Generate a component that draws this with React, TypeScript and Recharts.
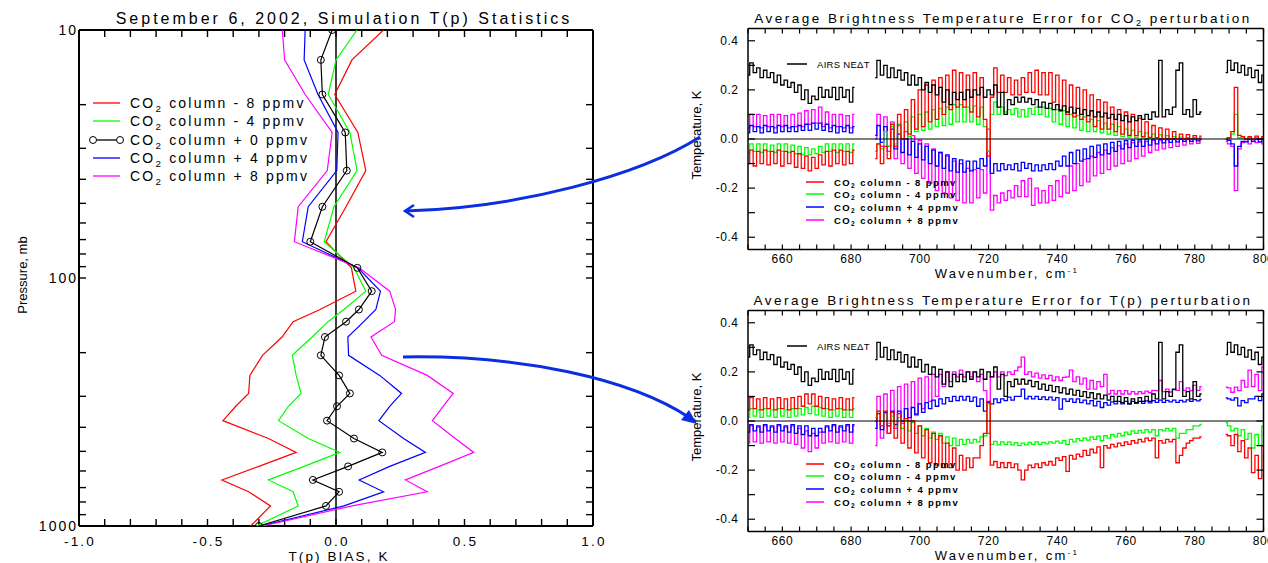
import { ScatterChart, Scatter, LineChart, Line, XAxis, YAxis, ReferenceLine } from "recharts";

type Pair = [number, number];

const FONT = "'Liberation Sans', Arial, sans-serif";
const RED = "#ff0000";
const GREEN = "#00ff00";
const BLUE = "#0000ff";
const MAGENTA = "#ff00ff";
const ARROW = "#0a2ee0";

/* ---------- left panel: T(p) bias profiles ---------- */

const pressures = [10, 13.2, 18.2, 25.9, 36.9, 51.6, 71.4, 91, 113, 134, 150, 173, 205, 247, 292, 329, 376, 444, 505, 575, 652, 728, 830, 1000];
const biasMinus8 = [0.185, 0.062, -0.005, 0.085, 0.116, 0.039, -0.039, 0.06, 0.077, -0.062, -0.167, -0.21, -0.286, -0.335, -0.34, -0.39, -0.44, -0.263, -0.155, -0.3, -0.444, -0.34, -0.255, -0.332];
const biasMinus4 = [0.082, 0.0, -0.03, 0.054, 0.082, -0.008, -0.046, 0.07, 0.116, 0.031, -0.031, -0.093, -0.17, -0.155, -0.136, -0.185, -0.224, -0.108, 0.015, -0.124, -0.263, -0.167, -0.147, -0.31];
const biasPlus0 = [-0.015, -0.059, -0.053, 0.036, 0.042, -0.053, -0.1, 0.083, 0.139, 0.089, 0.039, -0.043, -0.059, 0.012, 0.054, 0.004, -0.035, 0.07, 0.18, 0.047, -0.09, 0.012, -0.039, -0.3];
const biasPlus4 = [-0.12, -0.124, -0.07, 0.008, 0.003, -0.108, -0.131, 0.085, 0.173, 0.155, 0.108, 0.046, 0.049, 0.17, 0.255, 0.209, 0.167, 0.263, 0.348, 0.209, 0.09, 0.185, 0.031, -0.294];
const biasPlus8 = [-0.209, -0.2, -0.12, -0.015, -0.034, -0.147, -0.162, 0.09, 0.209, 0.232, 0.227, 0.136, 0.178, 0.355, 0.456, 0.417, 0.375, 0.464, 0.536, 0.402, 0.27, 0.355, 0.062, -0.286];

const biasTicks = [-1, -0.9, -0.8, -0.7, -0.6, -0.5, -0.4, -0.3, -0.2, -0.1, 0, 0.1, 0.2, 0.3, 0.4, 0.5, 0.6, 0.7, 0.8, 0.9, 1];
const biasLabels = [-1, -0.5, 0, 0.5, 1];
const pTicks = [10, 20, 30, 40, 50, 60, 70, 80, 90, 100, 200, 300, 400, 500, 600, 700, 800, 900, 1000];
const pLabels = [10, 100, 1000];

/* ---------- right panels: brightness temperature error spectra ---------- */

// channel groups (cm-1); each channel holds a pair of values drawn at ch and ch+1
const chA = [650, 652, 654, 656, 658, 660, 662, 664, 666, 668, 670, 672, 674, 676, 678, 680];
const chB = [
  687, 689, 691, 693, 695, 697, 699, 701, 703, 705, 707, 709, 711, 713, 715, 717,
  719, 721, 723, 725, 727, 729, 731, 733, 735, 737, 739, 741, 743, 745, 747, 749,
  751, 753, 755, 757, 759, 761, 763, 765, 767, 769, 771, 773, 775, 777, 779, 781,
];
const chC = [789, 791, 793, 795, 797, 799];

const wnTicks = [650, 655, 660, 665, 670, 675, 680, 685, 690, 695, 700, 705, 710, 715, 720, 725, 730, 735, 740, 745, 750, 755, 760, 765, 770, 775, 780, 785, 790, 795, 800];
const wnLabels = [660, 680, 700, 720, 740, 760, 780, 800];
const tTicks = [-0.4, -0.3, -0.2, -0.1, 0, 0.1, 0.2, 0.3, 0.4];
const tLabels = [-0.4, -0.2, 0, 0.2, 0.4];

// AIRS NEdT (same in both panels)
const airsNedt: Pair[] = [
  [0.26, 0.31], [0.27, 0.29], [0.25, 0.28], [0.25, 0.27], [0.23, 0.26], [0.22, 0.24], [0.21, 0.23], [0.19, 0.22],
  [0.16, 0.2], [0.145, 0.175], [0.16, 0.21], [0.17, 0.2], [0.17, 0.21], [0.16, 0.21], [0.17, 0.2], [0.15, 0.21],
  [0.25, 0.32], [0.26, 0.3], [0.25, 0.29], [0.25, 0.28], [0.24, 0.27], [0.22, 0.26], [0.22, 0.25], [0.2, 0.23],
  [0.19, 0.22], [0.18, 0.21], [0.15, 0.2], [0.14, 0.19], [0.16, 0.19], [0.16, 0.2], [0.17, 0.2], [0.18, 0.21],
  [0.17, 0.2], [0.18, 0.22], [0.13, 0.19], [0.1, 0.16], [0.14, 0.17], [0.15, 0.17], [0.15, 0.165], [0.14, 0.16],
  [0.13, 0.15], [0.125, 0.145], [0.12, 0.14], [0.115, 0.135], [0.11, 0.13], [0.105, 0.125], [0.1, 0.12], [0.095, 0.115],
  [0.09, 0.11], [0.09, 0.105], [0.085, 0.1], [0.08, 0.1], [0.075, 0.095], [0.07, 0.09], [0.075, 0.095], [0.08, 0.1],
  [0.08, 0.11], [0.09, 0.32], [0.09, 0.12], [0.1, 0.13], [0.28, 0.31], [0.1, 0.12], [0.09, 0.16], [0.1, 0.11],
  [0.27, 0.32], [0.28, 0.31], [0.27, 0.3], [0.26, 0.29], [0.25, 0.28], [0.23, 0.26],
];

// CO2 perturbation panel
const co2Minus8: Pair[] = [
  [-0.1, -0.045], [-0.11, -0.05], [-0.1, -0.045], [-0.105, -0.05], [-0.1, -0.045], [-0.11, -0.05], [-0.1, -0.05], [-0.115, -0.06],
  [-0.12, -0.07], [-0.13, -0.075], [-0.12, -0.065], [-0.105, -0.05], [-0.11, -0.045], [-0.1, -0.045], [-0.105, -0.05], [-0.1, -0.045],
  [-0.08, -0.02], [-0.1, -0.03], [-0.08, 0.06], [-0.03, 0.1], [0.0, 0.12], [0.02, 0.16], [0.04, 0.2], [0.05, 0.22],
  [0.07, 0.24], [0.08, 0.25], [0.1, 0.26], [0.12, 0.28], [0.13, 0.27], [0.13, 0.26], [0.11, 0.27], [0.09, 0.25],
  [0.08, -0.07], [0.17, 0.29], [0.19, 0.26], [0.19, 0.25], [0.18, 0.24], [0.18, 0.25], [0.19, 0.27], [0.19, 0.28],
  [0.18, 0.27], [0.18, 0.27], [0.15, 0.26], [0.12, 0.24], [0.1, 0.22], [0.09, 0.21], [0.08, 0.2], [0.07, 0.18],
  [0.05, 0.16], [0.04, 0.15], [0.04, 0.13], [0.03, 0.12], [0.02, 0.11], [0.015, 0.1], [0.014, 0.085], [0.01, 0.07],
  [0.007, 0.055], [0.005, 0.045], [0.0, 0.04], [0.0, 0.03], [0.0, 0.02], [0.0, 0.018], [0.0, 0.014], [0.0, 0.012],
  [0.0, 0.005], [0.03, 0.21], [0.015, 0.01], [0.0, 0.01], [0.0, 0.012], [0.0, 0.01],
];
const co2Minus4: Pair[] = [
  [-0.055, -0.02], [-0.05, -0.02], [-0.055, -0.02], [-0.05, -0.025], [-0.055, -0.02], [-0.05, -0.02], [-0.055, -0.025], [-0.06, -0.03],
  [-0.065, -0.035], [-0.065, -0.04], [-0.06, -0.03], [-0.055, -0.02], [-0.05, -0.02], [-0.055, -0.02], [-0.05, -0.02], [-0.055, -0.02],
  [-0.05, -0.02], [-0.04, 0.03], [-0.03, 0.05], [-0.02, 0.06], [0.0, 0.07], [0.01, 0.09], [0.03, 0.1], [0.035, 0.11],
  [0.04, 0.12], [0.05, 0.125], [0.055, 0.13], [0.06, 0.14], [0.07, 0.14], [0.07, 0.13], [0.07, 0.135], [0.06, 0.13],
  [0.05, -0.05], [0.1, 0.15], [0.1, 0.13], [0.11, 0.12], [0.1, 0.125], [0.09, 0.12], [0.09, 0.125], [0.1, 0.13],
  [0.1, 0.13], [0.09, 0.125], [0.07, 0.12], [0.06, 0.115], [0.05, 0.1], [0.045, 0.095], [0.035, 0.09], [0.03, 0.08],
  [0.03, 0.075], [0.025, 0.065], [0.02, 0.06], [0.015, 0.05], [0.01, 0.04], [0.008, 0.035], [0.005, 0.03], [0.003, 0.025],
  [0.002, 0.02], [0.0, 0.017], [0.0, 0.014], [0.0, 0.01], [0.0, 0.008], [0.0, 0.006], [0.0, 0.005], [0.0, 0.004],
  [0.0, 0.006], [0.02, 0.1], [0.005, 0.004], [0.0, 0.006], [0.0, 0.005], [0.0, 0.006],
];
const co2Plus4: Pair[] = [
  [0.025, 0.055], [0.03, 0.05], [0.025, 0.055], [0.03, 0.05], [0.025, 0.055], [0.03, 0.055], [0.03, 0.05], [0.03, 0.055],
  [0.035, 0.06], [0.035, 0.065], [0.04, 0.065], [0.035, 0.06], [0.03, 0.055], [0.025, 0.05], [0.03, 0.055], [0.025, 0.05],
  [0.015, 0.055], [-0.014, 0.05], [-0.03, 0.04], [-0.04, 0.02], [-0.055, 0.0], [-0.065, -0.01], [-0.075, -0.02], [-0.085, -0.03],
  [-0.1, -0.045], [-0.11, -0.055], [-0.12, -0.065], [-0.13, -0.08], [-0.135, -0.085], [-0.135, -0.09], [-0.13, -0.09], [-0.12, -0.08],
  [-0.11, -0.05], [-0.14, -0.1], [-0.13, -0.1], [-0.125, -0.105], [-0.125, -0.1], [-0.13, -0.095], [-0.12, -0.1], [-0.13, -0.105],
  [-0.13, -0.105], [-0.125, -0.1], [-0.125, -0.09], [-0.11, -0.07], [-0.11, -0.055], [-0.1, -0.045], [-0.09, -0.04], [-0.08, -0.03],
  [-0.075, -0.025], [-0.065, -0.02], [-0.06, -0.014], [-0.05, -0.01], [-0.04, -0.007], [-0.035, -0.005], [-0.03, -0.003], [-0.03, 0.0],
  [-0.025, 0.0], [-0.02, 0.0], [-0.016, 0.0], [-0.014, 0.0], [-0.012, 0.0], [-0.01, 0.0], [-0.01, 0.0], [-0.008, 0.0],
  [0.0, -0.005], [-0.02, -0.11], [-0.03, -0.01], [-0.012, 0.0], [-0.01, 0.0], [-0.012, 0.0],
];
const co2Plus8: Pair[] = [
  [0.045, 0.1], [0.05, 0.1], [0.045, 0.095], [0.05, 0.1], [0.045, 0.1], [0.05, 0.095], [0.045, 0.1], [0.05, 0.105],
  [0.05, 0.115], [0.06, 0.12], [0.065, 0.13], [0.05, 0.11], [0.045, 0.1], [0.05, 0.1], [0.045, 0.095], [0.045, 0.1],
  [0.0, 0.1], [-0.03, 0.09], [-0.05, 0.07], [-0.08, 0.055], [-0.1, 0.03], [-0.12, 0.014], [-0.14, -0.005], [-0.16, -0.02],
  [-0.18, -0.04], [-0.21, -0.055], [-0.22, -0.07], [-0.24, -0.09], [-0.25, -0.1], [-0.26, -0.12], [-0.26, -0.125], [-0.24, -0.125],
  [-0.22, 0.04], [-0.29, -0.23], [-0.26, -0.22], [-0.25, -0.21], [-0.24, -0.19], [-0.235, -0.17], [-0.235, -0.16], [-0.27, -0.2],
  [-0.26, -0.21], [-0.26, -0.19], [-0.25, -0.17], [-0.235, -0.15], [-0.22, -0.11], [-0.21, -0.1], [-0.19, -0.083], [-0.175, -0.07],
  [-0.15, -0.055], [-0.14, -0.045], [-0.125, -0.035], [-0.11, -0.028], [-0.1, -0.02], [-0.09, -0.015], [-0.08, -0.012], [-0.07, -0.01],
  [-0.055, -0.006], [-0.045, -0.004], [-0.04, -0.002], [-0.035, 0.0], [-0.03, 0.0], [-0.025, 0.0], [-0.02, 0.0], [-0.018, 0.0],
  [-0.01, -0.02], [-0.03, -0.21], [-0.04, -0.015], [-0.01, -0.02], [-0.01, -0.015], [-0.012, -0.02],
];

// T(p) perturbation panel
const tpMinus8: Pair[] = [
  [0.045, 0.095], [0.05, 0.09], [0.045, 0.095], [0.05, 0.09], [0.045, 0.095], [0.05, 0.09], [0.045, 0.095], [0.05, 0.1],
  [0.06, 0.11], [0.07, 0.11], [0.06, 0.1], [0.05, 0.095], [0.045, 0.09], [0.05, 0.095], [0.045, 0.09], [0.045, 0.095],
  [0.0, 0.04], [-0.02, 0.04], [-0.05, 0.035], [-0.07, 0.03], [-0.09, 0.01], [-0.11, 0.0], [-0.13, -0.02], [-0.15, -0.035],
  [-0.17, -0.05], [-0.18, -0.06], [-0.19, -0.09], [-0.19, -0.11], [-0.2, -0.14], [-0.2, -0.15], [-0.19, -0.15], [-0.15, -0.1],
  [-0.05, 0.08], [-0.18, -0.165], [-0.19, -0.17], [-0.19, -0.17], [-0.19, -0.175], [-0.2, -0.24], [-0.2, -0.18], [-0.19, -0.175],
  [-0.19, -0.17], [-0.18, -0.165], [-0.18, -0.15], [-0.16, -0.145], [-0.205, -0.14], [-0.155, -0.135], [-0.145, -0.12], [-0.14, -0.115],
  [-0.13, -0.105], [-0.19, -0.1], [-0.11, -0.095], [-0.105, -0.09], [-0.1, -0.085], [-0.095, -0.08], [-0.09, -0.075], [-0.085, -0.07],
  [-0.08, -0.07], [-0.15, -0.08], [-0.09, -0.075], [-0.085, -0.075], [-0.17, -0.14], [-0.11, -0.09], [-0.08, -0.07], [-0.07, -0.065],
  [-0.055, -0.06], [-0.1, -0.055], [-0.125, -0.08], [-0.15, -0.11], [-0.21, -0.14], [-0.235, -0.1],
];
const tpMinus4: Pair[] = [
  [0.015, 0.05], [0.02, 0.045], [0.015, 0.05], [0.02, 0.045], [0.015, 0.05], [0.02, 0.045], [0.015, 0.05], [0.02, 0.05],
  [0.025, 0.055], [0.03, 0.06], [0.025, 0.055], [0.02, 0.05], [0.015, 0.045], [0.02, 0.05], [0.015, 0.045], [0.015, 0.05],
  [0.014, 0.04], [0.0, 0.03], [-0.01, 0.02], [-0.02, 0.014], [-0.03, 0.0], [-0.04, -0.007], [-0.05, -0.02], [-0.06, -0.03],
  [-0.07, -0.045], [-0.075, -0.05], [-0.09, -0.065], [-0.1, -0.07], [-0.1, -0.075], [-0.095, -0.075], [-0.09, -0.075], [-0.085, -0.065],
  [-0.06, 0.07], [-0.095, -0.083], [-0.097, -0.085], [-0.095, -0.085], [-0.097, -0.088], [-0.1, -0.09], [-0.097, -0.087], [-0.095, -0.085],
  [-0.095, -0.087], [-0.093, -0.085], [-0.09, -0.082], [-0.09, -0.08], [-0.095, -0.075], [-0.085, -0.072], [-0.08, -0.07], [-0.078, -0.065],
  [-0.075, -0.062], [-0.08, -0.06], [-0.07, -0.055], [-0.065, -0.05], [-0.06, -0.045], [-0.055, -0.04], [-0.05, -0.038], [-0.048, -0.035],
  [-0.045, -0.035], [-0.06, -0.035], [-0.04, -0.03], [-0.04, -0.03], [-0.07, -0.05], [-0.05, -0.035], [-0.035, -0.02], [-0.02, -0.014],
  [-0.007, -0.02], [-0.04, -0.03], [-0.06, -0.035], [-0.075, -0.05], [-0.11, -0.055], [-0.1, -0.02],
];
const tpPlus4: Pair[] = [
  [-0.045, -0.015], [-0.04, -0.02], [-0.045, -0.015], [-0.04, -0.02], [-0.045, -0.015], [-0.04, -0.02], [-0.045, -0.015], [-0.05, -0.02],
  [-0.055, -0.02], [-0.06, -0.03], [-0.06, -0.03], [-0.045, -0.02], [-0.04, -0.015], [-0.045, -0.02], [-0.04, -0.015], [-0.045, -0.015],
  [-0.03, 0.03], [-0.035, 0.035], [-0.02, 0.04], [-0.014, 0.04], [0.0, 0.05], [0.014, 0.055], [0.025, 0.07], [0.035, 0.075],
  [0.05, 0.085], [0.06, 0.09], [0.07, 0.095], [0.08, 0.1], [0.083, 0.1], [0.085, 0.1], [0.08, 0.097], [0.06, 0.09],
  [0.04, 0.075], [0.07, 0.09], [0.075, 0.09], [0.083, 0.097], [0.085, 0.1], [0.1, 0.13], [0.09, 0.1], [0.09, 0.1],
  [0.088, 0.098], [0.087, 0.097], [0.085, 0.095], [0.048, 0.09], [0.08, 0.09], [0.076, 0.09], [0.075, 0.085], [0.07, 0.083],
  [0.062, 0.08], [0.055, 0.075], [0.065, 0.078], [0.07, 0.08], [0.07, 0.08], [0.07, 0.08], [0.072, 0.08], [0.072, 0.082],
  [0.074, 0.083], [0.076, 0.085], [0.076, 0.084], [0.078, 0.085], [0.076, 0.084], [0.078, 0.086], [0.08, 0.087], [0.082, 0.088],
  [0.094, 0.09], [0.085, 0.094], [0.062, 0.083], [0.075, 0.09], [0.09, 0.1], [0.083, 0.11],
];
const tpPlus8: Pair[] = [
  [-0.09, -0.02], [-0.085, -0.025], [-0.09, -0.02], [-0.085, -0.025], [-0.09, -0.02], [-0.085, -0.025], [-0.09, -0.02], [-0.095, -0.03],
  [-0.11, -0.04], [-0.125, -0.05], [-0.11, -0.045], [-0.09, -0.025], [-0.085, -0.02], [-0.09, -0.025], [-0.085, -0.02], [-0.09, -0.02],
  [-0.1, 0.1], [-0.07, 0.11], [-0.05, 0.125], [-0.03, 0.14], [-0.01, 0.15], [0.0, 0.16], [0.03, 0.175], [0.05, 0.18],
  [0.08, 0.19], [0.1, 0.19], [0.14, 0.2], [0.16, 0.2], [0.18, 0.207], [0.18, 0.2], [0.18, 0.2], [0.16, 0.19],
  [0.124, -0.05], [0.18, 0.2], [0.18, 0.2], [0.185, 0.2], [0.19, 0.205], [0.22, 0.26], [0.19, 0.2], [0.18, 0.195],
  [0.175, 0.188], [0.172, 0.186], [0.165, 0.18], [0.165, 0.178], [0.18, 0.207], [0.16, 0.18], [0.15, 0.175], [0.13, 0.165],
  [0.13, 0.16], [0.14, 0.19], [0.11, 0.125], [0.11, 0.124], [0.11, 0.124], [0.11, 0.12], [0.11, 0.12], [0.112, 0.122],
  [0.115, 0.125], [0.124, 0.165], [0.12, 0.13], [0.118, 0.128], [0.125, 0.16], [0.125, 0.135], [0.124, 0.145], [0.125, 0.14],
  [0.138, 0.135], [0.117, 0.138], [0.124, 0.165], [0.138, 0.207], [0.14, 0.19], [0.124, 0.22],
];

/* ---------- helpers ---------- */

const near = (list: number[], v: number) => list.some((l) => Math.abs(l - v) < 1e-6);

function buildSpectrum(series: Record<string, Pair[]>) {
  const groups = [chA, chB, chC];
  const keys = Object.keys(series);
  const rows: Record<string, number | null>[] = [];
  let i = 0;
  groups.forEach((g, gi) => {
    g.forEach((ch) => {
      const r0: Record<string, number | null> = { x: ch };
      const r1: Record<string, number | null> = { x: ch + 1 };
      keys.forEach((k) => {
        r0[k] = series[k][i][0];
        r1[k] = series[k][i][1];
      });
      rows.push(r0, r1);
      i++;
    });
    if (gi < groups.length - 1) {
      const gap: Record<string, number | null> = { x: g[g.length - 1] + 2 };
      keys.forEach((k) => (gap[k] = null));
      rows.push(gap);
    }
  });
  return rows;
}

const co2Rows = buildSpectrum({ m8: co2Minus8, m4: co2Minus4, p4: co2Plus4, p8: co2Plus8, nedt: airsNedt });
const tpRows = buildSpectrum({ m8: tpMinus8, m4: tpMinus4, p4: tpPlus4, p8: tpPlus8, nedt: airsNedt });

const profile = (vals: number[]) => vals.map((v, i) => ({ x: v, p: pressures[i] }));

const Empty = () => <g />;

function CoText({ x, y, size, ls, rest, bold }: { x: number; y: number; size: number; ls: number; rest: string; bold?: boolean }) {
  return (
    <text x={x} y={y} fontSize={size} letterSpacing={ls} fontFamily={FONT} fontWeight={bold ? "bold" : "normal"} fill="#000">
      CO
      <tspan fontSize={size * 0.7} dy={size * 0.28}>2</tspan>
      <tspan dy={-size * 0.28}>{rest}</tspan>
    </text>
  );
}

/* ---------- panels ---------- */

function ProfilePanel() {
  const xTick = (p: any) =>
    near(biasLabels, p.payload.value) ? (
      <text x={p.x + 1} y={p.y} dy="0.71em" textAnchor="middle" fontSize={13.5} letterSpacing={2.2} fontFamily={FONT} fill="#000">
        {p.payload.value.toFixed(1)}
      </text>
    ) : (
      <g />
    );
  const yTick = (p: any) =>
    near(pLabels, p.payload.value) ? (
      <text x={p.x} y={p.y} dy="0.35em" textAnchor="end" fontSize={14} letterSpacing={2} fontFamily={FONT} fill="#000">
        {p.payload.value}
      </text>
    ) : (
      <g />
    );
  const axis = { stroke: "#000", strokeWidth: 2 };
  const tl = { stroke: "#000", strokeWidth: 1.4 };
  const noDot = () => <g />;
  const ring = (p: any) => <circle cx={p.cx} cy={p.cy} r={3.5} fill="none" stroke="#000" strokeWidth={1} />;
  const common = { xAxisId: "b", yAxisId: "l", isAnimationActive: false, lineType: "joint" as const };
  const xAx = { dataKey: "x", type: "number" as const, domain: [-1, 1], ticks: biasTicks, interval: 0, allowDataOverflow: true };
  const yAx = { dataKey: "p", type: "number" as const, scale: "log" as const, domain: [10, 1000], reversed: true, ticks: pTicks, interval: 0, allowDataOverflow: true };
  return (
    <div style={{ position: "absolute", left: 0, top: 0 }}>
      <ScatterChart width={620} height={563} margin={{ top: 30, right: 27, bottom: 17, left: 39 }}>
        {/* inward tick axes */}
        <XAxis xAxisId="bm" {...xAx} mirror height={1} tickSize={7} tick={Empty} axisLine={axis} tickLine={tl} stroke="#000" />
        <XAxis xAxisId="b" {...xAx} height={20} tickSize={0} tickMargin={10} tick={xTick} axisLine={false} tickLine={false} />
        <XAxis xAxisId="t" {...xAx} orientation="top" mirror height={1} tickSize={7} tick={Empty} axisLine={axis} tickLine={tl} stroke="#000" />
        <YAxis yAxisId="lm" {...yAx} mirror width={1} tickSize={7} tick={Empty} axisLine={axis} tickLine={tl} stroke="#000" />
        <YAxis yAxisId="l" {...yAx} width={40} tickSize={0} tickMargin={1} tick={yTick} axisLine={false} tickLine={false} />
        <YAxis yAxisId="rm" {...yAx} orientation="right" mirror width={1} tickSize={7} tick={Empty} axisLine={axis} tickLine={tl} stroke="#000" />
        <ReferenceLine xAxisId="b" yAxisId="l" x={0} stroke="#000" strokeWidth={1.5} />
        <Scatter xAxisId="bm" yAxisId="lm" data={profile(biasPlus0)} shape={noDot} isAnimationActive={false} />
        <Scatter xAxisId="t" yAxisId="rm" data={profile(biasPlus0)} shape={noDot} isAnimationActive={false} />
        <Scatter {...common} data={profile(biasMinus8)} fill={RED} line={{ stroke: RED, strokeWidth: 1.2 }} shape={noDot} />
        <Scatter {...common} data={profile(biasMinus4)} fill={GREEN} line={{ stroke: GREEN, strokeWidth: 1.2 }} shape={noDot} />
        <Scatter {...common} data={profile(biasPlus4)} fill={BLUE} line={{ stroke: BLUE, strokeWidth: 1.2 }} shape={noDot} />
        <Scatter {...common} data={profile(biasPlus8)} fill={MAGENTA} line={{ stroke: MAGENTA, strokeWidth: 1.2 }} shape={noDot} />
        <Scatter {...common} data={profile(biasPlus0)} fill="#000" line={{ stroke: "#000", strokeWidth: 1.2 }} shape={ring} />
      </ScatterChart>
    </div>
  );
}

function SpectrumPanel({ rows, top, height }: { rows: Record<string, number | null>[]; top: number; height: number }) {
  const xTick = (p: any) =>
    near(wnLabels, p.payload.value) ? (
      <text x={p.x} y={p.y} dy="0.71em" textAnchor="middle" fontSize={12} letterSpacing={0.5} fontFamily={FONT} fill="#000">
        {p.payload.value}
      </text>
    ) : (
      <g />
    );
  const yTick = (p: any) =>
    near(tLabels, p.payload.value) ? (
      <text x={p.x} y={p.y} dy="0.35em" textAnchor="end" fontSize={12} letterSpacing={0.5} fontFamily={FONT} fill="#000">
        {p.payload.value.toFixed(1)}
      </text>
    ) : (
      <g />
    );
  const axis = { stroke: "#000", strokeWidth: 1.5 };
  const tl = { stroke: "#000", strokeWidth: 1.2 };
  const xAx = { dataKey: "x", type: "number" as const, domain: [650, 800], ticks: wnTicks, interval: 0, allowDataOverflow: true };
  const yAx = { type: "number" as const, domain: [-0.45, 0.45], ticks: tTicks, interval: 0, allowDataOverflow: true };
  const line = (key: string, color: string) => (
    <Line xAxisId="b" yAxisId="l" dataKey={key} stroke={color} strokeWidth={1.3} dot={false} activeDot={false} isAnimationActive={false} type="step" />
  );
  const hidden = (xid: string, yid: string) => (
    <Line xAxisId={xid} yAxisId={yid} dataKey="nedt" stroke="none" dot={false} activeDot={false} isAnimationActive={false} />
  );
  return (
    <div style={{ position: "absolute", left: 680, top }}>
      <LineChart width={588} height={height} data={rows} margin={{ top: 28.5, right: 4.5, bottom: height - 29.5 - 219 - 21, left: 28 }}>
        <XAxis xAxisId="bm" {...xAx} mirror height={1} tickSize={5} tick={Empty} axisLine={axis} tickLine={tl} stroke="#000" />
        <XAxis xAxisId="b" {...xAx} height={20} tickSize={0} tickMargin={5} tick={xTick} axisLine={false} tickLine={false} />
        <XAxis xAxisId="t" {...xAx} orientation="top" mirror height={1} tickSize={5} tick={Empty} axisLine={axis} tickLine={tl} stroke="#000" />
        <YAxis yAxisId="lm" {...yAx} mirror width={1} tickSize={7} tick={Empty} axisLine={axis} tickLine={tl} stroke="#000" />
        <YAxis yAxisId="l" {...yAx} width={40} tickSize={0} tickMargin={9.5} tick={yTick} axisLine={false} tickLine={false} />
        <YAxis yAxisId="rm" {...yAx} orientation="right" mirror width={1} tickSize={7} tick={Empty} axisLine={axis} tickLine={tl} stroke="#000" />
        {hidden("bm", "lm")}
        {hidden("t", "rm")}
        {line("p8", MAGENTA)}
        {line("p4", BLUE)}
        {line("m4", GREEN)}
        {line("m8", RED)}
        {line("nedt", "#000")}
        <ReferenceLine xAxisId="b" yAxisId="l" y={0} stroke="#000" strokeWidth={1.2} />
      </LineChart>
    </div>
  );
}

/* ---------- annotations ---------- */

function Overlay() {
  const leftRows = [
    { rest: " column - 8 ppmv", color: RED },
    { rest: " column - 4 ppmv", color: GREEN },
    { rest: " column + 0 ppmv", color: "#000" },
    { rest: " column + 4 ppmv", color: BLUE },
    { rest: " column + 8 ppmv", color: MAGENTA },
  ];
  const leftY = [103, 121, 140, 158, 176];
  const rightRows = [
    { rest: " column - 8 ppmv", color: RED },
    { rest: " column - 4 ppmv", color: GREEN },
    { rest: " column + 4 ppmv", color: BLUE },
    { rest: " column + 8 ppmv", color: MAGENTA },
  ];
  const rightY = [182, 194, 207, 220];
  const t = { fontFamily: FONT, fill: "#000" };
  return (
    <svg width={1268} height={563} style={{ position: "absolute", left: 0, top: 0, pointerEvents: "none" }}>
      {/* left panel texts */}
      <text x={344} y={24} textAnchor="middle" fontSize={16} letterSpacing={3} {...t}>
        September 6, 2002, Simulation T(p) Statistics
      </text>
      <text x={339} y={561} textAnchor="middle" fontSize={13.5} letterSpacing={2.1} {...t}>
        T(p) BIAS, K
      </text>
      <text transform="translate(27,275) rotate(-90)" textAnchor="middle" fontSize={13} {...t}>
        Pressure, mb
      </text>
      {leftRows.map((r, i) => (
        <g key={i}>
          <line x1={93} x2={120} y1={leftY[i]} y2={leftY[i]} stroke={r.color} strokeWidth={1.3} />
          {r.color === "#000" && (
            <>
              <circle cx={93} cy={leftY[i]} r={3.5} fill="#fff" stroke="#000" />
              <circle cx={120} cy={leftY[i]} r={3.5} fill="#fff" stroke="#000" />
            </>
          )}
          <CoText x={130} y={leftY[i] + 5} size={14} ls={2.2} rest={r.rest} />
        </g>
      ))}

      {/* right panel texts */}
      {[0, 282].map((dy, k) => (
        <g key={k}>
          <text x={1003} y={23 + dy} textAnchor="middle" fontSize={13.5} letterSpacing={2.5} {...t}>
            {k === 0 ? (
              <>
                Average Brightness Temperature Error for CO
                <tspan fontSize={9} dy={3}>2</tspan>
                <tspan dy={-3}> perturbation</tspan>
              </>
            ) : (
              "Average Brightness Temperature Error for T(p) perturbation"
            )}
          </text>
          <text x={1007} y={278 + dy} textAnchor="middle" fontSize={13} letterSpacing={2.3} {...t}>
            Wavenumber, cm
            <tspan fontSize={8} dy={-5}>-1</tspan>
          </text>
          <text transform={`translate(701,${135 + dy}) rotate(-90)`} textAnchor="middle" fontSize={13} {...t}>
            Temperature, K
          </text>
          <line x1={787} x2={807} y1={64 + dy} y2={64 + dy} stroke="#000" strokeWidth={1.5} />
          <text x={817} y={67.5 + dy} fontSize={9.5} letterSpacing={0.3} {...t}>
            AIRS NEΔT
          </text>
          {rightRows.map((r, i) => (
            <g key={i}>
              <line x1={806} x2={824} y1={rightY[i] + dy} y2={rightY[i] + dy} stroke={r.color} strokeWidth={1.5} />
              <CoText x={834} y={rightY[i] + dy + 3.5} size={9.5} ls={1.4} rest={r.rest} bold />
            </g>
          ))}
        </g>
      ))}

      {/* arrows */}
      <path d="M 700 137 C 640 175, 520 208, 405 211" fill="none" stroke={ARROW} strokeWidth={3} />
      <path d="M 414 205 L 405 211 L 414 217" fill="none" stroke={ARROW} strokeWidth={2.5} />
      <path d="M 403 357 C 520 355, 630 378, 690 418" fill="none" stroke={ARROW} strokeWidth={3} />
      <path d="M 697 424 L 681 420 L 689 410 Z" fill={ARROW} />
    </svg>
  );
}

export default function App() {
  return (
    <div style={{ position: "relative", width: 1268, height: 563, background: "#fff", overflow: "hidden" }}>
      <style>{`body{margin:0}`}</style>
      <ProfilePanel />
      <SpectrumPanel rows={co2Rows} top={0} height={282} />
      <SpectrumPanel rows={tpRows} top={282} height={281} />
      <Overlay />
    </div>
  );
}
